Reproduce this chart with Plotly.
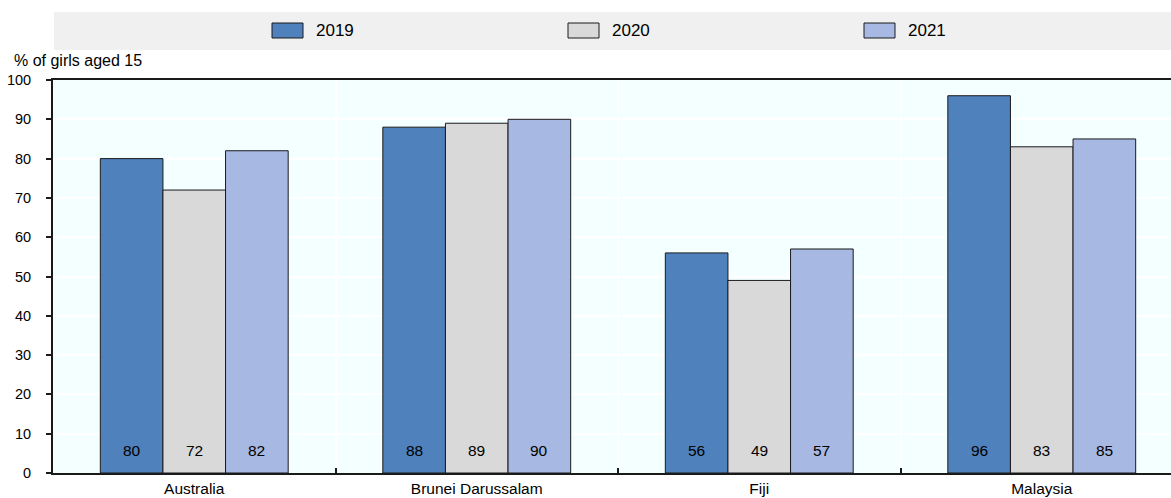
import plotly.graph_objects as go

# ---- data ----
categories = ["Australia", "Brunei Darussalam", "Fiji", "Malaysia"]
years = ["2019", "2020", "2021"]
values_2019 = [80, 88, 56, 96]
values_2020 = [72, 89, 49, 83]
values_2021 = [82, 90, 57, 85]
series = [values_2019, values_2020, values_2021]
y_title = "% of girls aged 15"
y_ticks = [0, 10, 20, 30, 40, 50, 60, 70, 80, 90, 100]

colors = ["#4F81BD", "#D9D9D9", "#A7B8E2"]
FONT = "Liberation Sans, Arial, sans-serif"

W, H = 1171, 498
ML, MR, MT, MB = 53, 0, 80, 25
PW = W - ML - MR
PH = H - MT - MB
BARGAP = 0.335
CAT_PX = 282.5


def px_x(px):
    return (px - ML) / PW


def px_y(py):
    return (H - MB - py) / PH


fig = go.Figure()
for yr, vals, col in zip(years, series, colors):
    fig.add_trace(go.Bar(
        name=yr, x=categories, y=vals,
        marker=dict(color=col, line=dict(color="#1a1a1a", width=1)),
        showlegend=False, hoverinfo="x+y+name",
    ))

annotations = []
bw = (1 - BARGAP) / len(years)
for j, vals in enumerate(series):
    for i, v in enumerate(vals):
        annotations.append(dict(
            x=i + (j - 1) * bw, y=5.8, xref="x", yref="y",
            text=str(v), showarrow=False,
            font=dict(family=FONT, size=15.5, color="#000000"),
            xanchor="center", yanchor="middle",
        ))

# axis title
annotations.append(dict(
    x=px_x(12), y=px_y(61), xref="paper", yref="paper",
    text=y_title, showarrow=False, xanchor="left", yanchor="middle",
    font=dict(family=FONT, size=16, color="#000000"),
))

shapes = [
    # legend band
    dict(type="rect", xref="paper", yref="paper",
         x0=px_x(54), x1=1.0, y0=px_y(50), y1=px_y(12),
         fillcolor="#F0F0F0", line=dict(width=0), layer="below"),
]

leg_x = [272, 568, 864]
for yr, col, lx in zip(years, colors, leg_x):
    shapes.append(dict(type="rect", xref="paper", yref="paper",
                       x0=px_x(lx), x1=px_x(lx + 31), y0=px_y(38), y1=px_y(23),
                       fillcolor=col, line=dict(color="#1a1a1a", width=1)))
    annotations.append(dict(
        x=px_x(lx + 42), y=px_y(30.5), xref="paper", yref="paper",
        text=yr, showarrow=False, xanchor="left", yanchor="middle",
        font=dict(family=FONT, size=17, color="#000000"),
    ))

fig.update_layout(
    width=W, height=H,
    margin=dict(l=ML, r=MR, t=MT, b=MB, pad=0),
    paper_bgcolor="#FFFFFF",
    plot_bgcolor="#F4FFFF",
    barmode="group", bargap=BARGAP, bargroupgap=0,
    font=dict(family=FONT, size=15, color="#000000"),
    annotations=annotations, shapes=shapes,
    showlegend=False,
)

fig.update_xaxes(
    type="category", range=[-0.5, -0.5 + PW / CAT_PX],
    showline=True, linecolor="#1a1a1a", linewidth=2, mirror=True,
    ticks="inside", tickson="boundaries", ticklen=5, tickcolor="#1a1a1a", tickwidth=1.5,
    showgrid=True, gridcolor="#FFFFFF", gridwidth=1.5,
    tickfont=dict(family=FONT, size=15.5, color="#000000"),
    fixedrange=True,
)
fig.update_yaxes(
    range=[0, 100], tickmode="array", tickvals=y_ticks,
    showline=True, linecolor="#1a1a1a", linewidth=2,
    ticks="outside", ticklen=5, tickcolor="#1a1a1a", tickwidth=1.5,
    showgrid=True, gridcolor="#FFFFFF", gridwidth=1.5, zeroline=False,
    tickfont=dict(family=FONT, size=14.5, color="#000000"),
    ticklabelstandoff=12,
    fixedrange=True,
)

fig.write_html(
    "out.html",
    config={"displayModeBar": False},
    post_script="document.body.style.margin='0';document.body.style.overflow='hidden';",
)
